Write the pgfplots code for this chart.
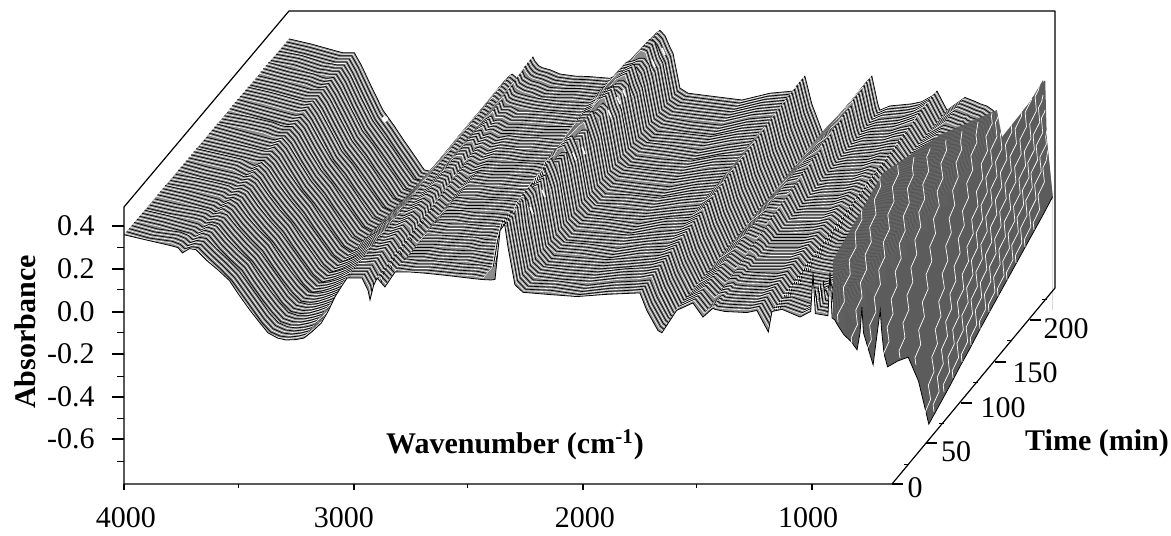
\documentclass[border=0pt]{standalone}
\usepackage{fontspec}
\setmainfont{Liberation Serif}
\usepackage{pgfplots}
\usepackage{pgfplotstable}
\usetikzlibrary{decorations.pathmorphing}
\pgfplotsset{compat=1.18}
\definecolor{surf}{gray}{0.55}
\definecolor{darksurf}{gray}{0.36}
% spectra: one column per time (c0 = 0 min, step 15 min)
\pgfplotstableread{
wn c0 c1 c2 c3 c4 c5 c6 c7 c8 c9 c10 c11 c12 c13 c14 c15 c16
4000 -.92 -.92 -.92 -.92 -.92 -.92 -.92 -.92 -.92 -.92 -.92 -.92 -.92 -.92 -.92 -.92 -.92
4000 .36 .36 .36 .355 .36 .355 .36 .36 .355 .36 .355 .36 .36 .355 .36 .355 .355
3900 .335 .33 .335 .33 .335 .335 .33 .335 .33 .33 .335 .33 .335 .33 .33 .335 .33
3800 .31 .315 .305 .31 .305 .31 .305 .31 .305 .30 .31 .30 .305 .30 .305 .30 .30
3765 .30 .30 .295 .30 .295 .30 .295 .29 .295 .29 .295 .29 .295 .29 .29 .295 .29
3745 .275 .28 .28 .285 .28 .285 .285 .28 .29 .285 .29 .285 .29 .29 .285 .29 .29
3715 .295 .29 .295 .29 .295 .29 .29 .295 .29 .295 .29 .29 .295 .29 .29 .29 .29
3686 .29 .285 .285 .28 .275 .275 .27 .265 .26 .26 .255 .255 .25 .245 .24 .24 .235
3640 .24 .235 .225 .22 .21 .205 .20 .19 .185 .18 .17 .165 .16 .15 .145 .135 .13
3590 .195 .185 .17 .16 .15 .14 .13 .12 .11 .095 .085 .075 .06 .05 .04 .03 .02
3540 .145 .13 .12 .105 .095 .08 .07 .055 .045 .03 .02 .005 -.005 -.02 -.03 -.045 -.055
3500 .08 .07 .055 .045 .03 .02 .005 -.005 -.02 -.03 -.045 -.055 -.07 -.08 -.095 -.105 -.12
3450 .005 -.005 -.02 -.03 -.045 -.055 -.07 -.08 -.095 -.11 -.12 -.135 -.145 -.16 -.17 -.185 -.197
3410 -.05 -.065 -.075 -.09 -.10 -.115 -.13 -.14 -.155 -.17 -.18 -.195 -.205 -.22 -.235 -.245 -.26
3372 -.10 -.11 -.12 -.13 -.14 -.155 -.165 -.175 -.185 -.195 -.205 -.215 -.225 -.24 -.25 -.26 -.27
3330 -.125 -.13 -.135 -.14 -.145 -.15 -.155 -.16 -.165 -.165 -.17 -.175 -.18 -.185 -.19 -.195 -.20
3293 -.134 -.135 -.136 -.137 -.138 -.139 -.14 -.141 -.142 -.143 -.144 -.145 -.146 -.147 -.148 -.149 -.15
3250 -.132 -.13 -.127 -.124 -.122 -.119 -.116 -.114 -.111 -.108 -.106 -.103 -.10 -.098 -.095 -.092 -.09
3215 -.125 -.12 -.115 -.11 -.105 -.10 -.095 -.09 -.085 -.08 -.075 -.07 -.065 -.06 -.055 -.05 -.045
3180 -.095 -.09 -.083 -.077 -.071 -.065 -.06 -.054 -.048 -.042 -.036 -.03 -.024 -.018 -.012 -.006 0
3140 -.055 -.05 -.04 -.035 -.03 -.02 -.015 -.01 0 .005 .01 .02 .025 .03 .04 .045 .05
3110 0 .005 .01 .015 .02 .03 .035 .04 .045 .05 .055 .06 .065 .07 .08 .085 .09
3080 .068 .07 .075 .08 .085 .09 .09 .095 .10 .10 .105 .11 .115 .12 .12 .125 .13
3050 .12 .125 .125 .13 .13 .135 .14 .14 .145 .15 .15 .155 .155 .16 .165 .165 .17
3027 .157 .16 .16 .165 .165 .165 .17 .17 .175 .175 .175 .18 .18 .185 .185 .19 .19
3005 .157 .16 .16 .16 .16 .16 .165 .165 .165 .165 .165 .165 .165 .17 .17 .17 .17
2962 .157 .16 .165 .17 .175 .18 .185 .19 .195 .20 .205 .21 .21 .215 .22 .225 .23
2936 .10 .11 .12 .13 .14 .155 .165 .175 .185 .195 .205 .215 .225 .24 .25 .26 .27
2927 .054 .065 .08 .09 .105 .115 .125 .14 .15 .165 .175 .19 .20 .21 .225 .235 .25
2912 .12 .125 .135 .14 .15 .155 .16 .17 .175 .18 .19 .195 .205 .21 .215 .225 .23
2896 .157 .16 .165 .17 .175 .18 .18 .185 .19 .19 .195 .20 .205 .21 .21 .215 .22
2862 .115 .12 .125 .13 .14 .145 .15 .155 .16 .17 .175 .18 .185 .19 .20 .205 .21
2818 .185 .19 .185 .185 .19 .185 .19 .185 .19 .185 .19 .19 .185 .19 .19 .185 .19
2750 .185 .18 .185 .185 .18 .185 .18 .185 .18 .18 .185 .18 .18 .185 .18 .18 .18
2690 .18 .18 .175 .18 .18 .175 .18 .175 .18 .18 .175 .18 .175 .18 .175 .18 .178
2600 .17 .17 .17 .175 .17 .17 .175 .17 .17 .175 .17 .17 .175 .17 .17 .17 .17
2560 .165 .165 .17 .165 .17 .165 .17 .165 .17 .165 .17 .17 .17 .175 .19 .20 .19
2482 .155 .16 .155 .16 .155 .16 .155 .20 .27 .29 .30 .31 .28 .30 .31 .30 .29
2439 .15 .15 .15 .19 .28 .31 .33 .35 .31 .34 .36 .33 .35 .34 .36 .34 .335
2400 .148 .20 .31 .34 .37 .33 .36 .38 .35 .38 .36 .39 .37 .39 .37 .39 .38
2382 .15 .32 .36 .39 .36 .40 .38 .41 .37 .40 .38 .41 .39 .40 .38 .41 .395
2360 .38 .41 .39 .42 .40 .43 .40 .42 .39 .42 .40 .42 .39 .41 .38 .40 .37
2340 .41 .40 .42 .39 .41 .38 .40 .37 .39 .36 .38 .35 .37 .34 .35 .33 .32
2325 .30 .31 .30 .32 .31 .33 .31 .32 .30 .31 .30 .31 .29 .30 .29 .30 .287
2295 .125 .13 .13 .135 .13 .135 .13 .135 .13 .13 .125 .13 .125 .13 .125 .125 .124
2260 .09 .09 .095 .09 .095 .09 .095 .095 .09 .095 .10 .095 .10 .095 .10 .10 .10
2150 .08 .085 .08 .08 .085 .08 .085 .08 .085 .08 .085 .08 .085 .085 .08 .085 .085
2024 .07 .065 .07 .07 .065 .07 .065 .07 .07 .065 .07 .07 .065 .07 .065 .07 .068
1902 .08 .08 .085 .08 .085 .085 .09 .085 .09 .09 .09 .095 .09 .095 .095 .10 .10
1800 .085 .085 .09 .09 .09 .095 .095 .095 .10 .10 .10 .10 .105 .105 .105 .11 .11
1750 .087 .09 .10 .105 .11 .115 .12 .13 .135 .14 .145 .15 .155 .165 .17 .175 .18
1720 .005 .01 .015 .015 .02 .02 .025 .03 .03 .03 .035 .035 .04 .04 .045 .05 .05
1671 -.09 -.085 -.09 -.09 -.085 -.09 -.09 -.085 -.09 -.09 -.085 -.09 -.09 -.085 -.09 -.09 -.09
1654 -.10 -.10 -.095 -.09 -.09 -.085 -.085 -.08 -.08 -.08 -.075 -.075 -.07 -.07 -.065 -.06 -.06
1590 .005 .01 .005 .01 .005 .01 .01 .005 .01 .01 .005 .01 .01 .005 .01 .01 .01
1519 .04 .045 .05 .05 .055 .06 .065 .065 .07 .075 .08 .08 .085 .09 .09 .095 .10
1475 -.026 -.015 0 .01 .02 .03 .045 .055 .065 .08 .09 .10 .115 .125 .135 .15 .16
1458 -.01 0 .015 .025 .035 .05 .06 .075 .085 .095 .11 .12 .135 .145 .155 .17 .18
1432 .015 .02 .02 .025 .025 .03 .03 .03 .035 .035 .04 .04 .04 .045 .045 .05 .05
1423 .01 .01 .01 .015 .01 .015 .015 .015 .015 .015 .015 .02 .02 .02 .02 .02 .02
1380 0 .005 .005 .01 .01 .01 .015 .015 .02 .02 .025 .025 .03 .03 .035 .035 .04
1283 -.005 0 0 .005 .01 .01 .015 .02 .02 .025 .03 .03 .035 .04 .04 .045 .05
1240 .005 .01 .015 .015 .02 .025 .025 .03 .035 .04 .04 .045 .05 .05 .055 .06 .06
1190 -.096 -.085 -.07 -.06 -.05 -.04 -.025 -.015 -.005 .01 .02 .03 .045 .055 .065 .08 .09
1174 0 .005 .015 .02 .03 .035 .04 .05 .055 .06 .07 .075 .08 .09 .095 .105 .11
1130 .01 .01 .01 .01 .015 .015 .015 .015 .015 .015 .015 .02 .02 .02 .02 .02 .02
1052 -.026 -.02 -.01 -.005 0 .005 .015 .02 .025 .035 .04 .045 .055 .06 .065 .075 .08
1005 0 .005 .01 .01 .015 .02 .02 .025 .03 .035 .04 .04 .045 .05 .05 .055 .06
995 .18 .08 .03 .03 .03 .035 .035 .04 .04 .04 .045 .045 .05 .05 .05 .055 .055
985 -.01 -.005 0 0 .005 .01 .015 .015 .02 .025 .025 .03 .035 .035 .04 .045 .05
957 -.015 -.01 -.01 -.005 0 0 .005 .01 .01 .015 .02 .02 .025 .03 .03 .035 .04
930 -.02 -.02 -.015 -.01 -.01 -.005 -.005 0 0 .005 .005 .01 .01 .015 .015 .02 .02
921 .19 .07 0 -.005 -.005 0 0 0 .005 .005 .005 .01 .01 .01 .01 .01 .01
912 -.03 -.03 -.03 -.03 -.03 -.035 -.035 -.035 -.035 -.035 -.035 -.04 -.04 -.04 -.04 -.04 -.04
900 -.04 -.04 -.045 -.05 -.05 -.055 -.055 -.06 -.06 -.06 -.065 -.065 -.07 -.07 -.075 -.08 -.08
900 -.92 -.92 -.92 -.92 -.92 -.92 -.92 -.92 -.92 -.92 -.92 -.92 -.92 -.92 -.92 -.92 -.92
}\tabA
\pgfplotstableread{
wn c0 c1 c2 c3 c4 c5 c6 c7 c8 c9 c10 c11 c12 c13 c14 c15 c16
900 -.92 -.92 -.92 -.92 -.92 -.92 -.92 -.92 -.92 -.92 -.92 -.92 -.92 -.92 -.92 -.92 -.92
900 -.04 -.04 -.045 -.05 -.05 -.055 -.055 -.06 -.06 -.06 -.065 -.065 -.07 -.07 -.075 -.08 -.08
890 -.06 -.065 -.065 -.07 -.07 -.075 -.08 -.08 -.085 -.085 -.09 -.09 -.095 -.10 -.10 -.105 -.11
860 -.11 -.11 -.105 -.10 -.10 -.10 -.095 -.095 -.09 -.09 -.085 -.085 -.08 -.08 -.075 -.075 -.07
830 -.14 -.13 -.125 -.12 -.11 -.105 -.10 -.09 -.085 -.08 -.07 -.065 -.06 -.05 -.045 -.035 -.03
803 -.18 -.12 -.07 -.05 -.03 -.025 -.02 -.02 -.015 -.015 -.01 -.01 -.005 0 0 .005 .01
790 -.10 -.05 -.03 -.02 -.015 -.01 -.01 -.005 0 0 .005 .005 .01 .015 .02 .025 .03
782 .02 .01 0 0 0 .005 .005 .01 .01 .015 .015 .02 .025 .03 .03 .035 .04
775 -.10 -.05 -.02 -.015 -.01 -.005 0 .005 .01 .01 .015 .02 .025 .03 .035 .04 .045
750 -.19 -.12 -.07 -.05 -.04 -.03 -.02 -.01 0 .01 .02 .03 .04 .05 .06 .07 .08
733 -.25 -.16 -.09 -.06 -.04 -.03 -.015 0 .01 .025 .04 .05 .065 .075 .09 .10 .11
715 -.10 -.085 -.07 -.055 -.04 -.02 -.005 .01 .025 .04 .055 .07 .085 .105 .12 .135 .15
702 .005 .015 .025 .035 .045 .055 .065 .075 .085 .09 .10 .11 .12 .13 .14 .15 .16
695 -.10 -.09 -.085 -.08 -.08 -.08 -.08 -.08 -.085 -.09 -.09 -.095 -.10 -.10 -.11 -.115 -.12
685 -.20 -.22 -.25 -.30 -.36 -.36 -.33 -.31 -.29 -.27 -.26 -.25 -.24 -.24 -.23 -.225 -.22
670 -.26 -.29 -.33 -.50 -.76 -.73 -.70 -.665 -.635 -.60 -.57 -.54 -.51 -.48 -.45 -.42 -.387
670 -.92 -.92 -.92 -.92 -.92 -.92 -.92 -.92 -.92 -.92 -.92 -.92 -.92 -.92 -.92 -.92 -.92
}\tabB
% lower outline of the surface: first spectrum, then the low-wavenumber edge
\pgfplotstableread{
wn t z
4000 0 .36
3900 0 .335
3800 0 .31
3765 0 .30
3745 0 .275
3715 0 .295
3686 0 .29
3640 0 .24
3590 0 .195
3540 0 .145
3500 0 .08
3450 0 .005
3410 0 -.05
3372 0 -.10
3330 0 -.125
3293 0 -.134
3250 0 -.132
3215 0 -.125
3180 0 -.095
3140 0 -.055
3110 0 0
3080 0 .068
3050 0 .12
3027 0 .157
3005 0 .157
2962 0 .157
2936 0 .10
2927 0 .054
2912 0 .12
2896 0 .157
2862 0 .115
2818 0 .185
2750 0 .185
2690 0 .18
2600 0 .17
2560 0 .165
2482 0 .155
2439 0 .15
2400 0 .148
2382 0 .15
2360 0 .38
2340 0 .41
2325 0 .30
2295 0 .125
2260 0 .09
2150 0 .08
2024 0 .07
1902 0 .08
1800 0 .085
1750 0 .087
1720 0 .005
1671 0 -.09
1654 0 -.10
1590 0 .005
1519 0 .04
1475 0 -.026
1458 0 -.01
1432 0 .015
1423 0 .01
1380 0 0
1283 0 -.005
1240 0 .005
1190 0 -.096
1174 0 0
1130 0 .01
1052 0 -.026
1005 0 0
995 0 .18
985 0 -.01
957 0 -.015
930 0 -.02
921 0 .19
912 0 -.03
900 0 -.04
890 0 -.06
860 0 -.11
830 0 -.14
803 0 -.18
790 0 -.10
782 0 .02
775 0 -.10
750 0 -.19
733 0 -.25
715 0 -.10
702 0 .005
695 0 -.10
685 0 -.20
670 0 -.26
670 15 -.29
670 30 -.33
670 45 -.50
670 60 -.76
670 75 -.73
670 90 -.70
670 105 -.665
670 120 -.635
670 135 -.60
670 150 -.57
670 165 -.54
670 180 -.51
670 195 -.48
670 210 -.45
670 225 -.42
670 240 -.387
670 240 -1.02
670 0 -1.02
4010 0 -1.02
4010 0 .36
}\tabM
\pgfkeys{/tikz/hatchw/.style={postaction={draw=white,line width=.3pt,transform canvas={xshift=-#1*.645pt,yshift=-#1*.77pt}}},
 /tikz/hatchk/.style={postaction={draw=black,line width=.35pt,transform canvas={xshift=-#1*.645pt,yshift=-#1*.77pt}}}}
\begin{document}
\begin{tikzpicture}
\begin{axis}[
  hide axis, clip=false,
  x={(-0.11465pt,0pt)}, y={(0.34375pt,0.4104pt)}, z={(0pt,106.5pt)},
  xmin=670, xmax=4000, ymin=0, ymax=240, zmin=-0.81, zmax=0.49,
  anchor=origin, at={(0,0)}
]
\addplot3[mark=none, fill=surf, draw=none] coordinates {(4000,0,.36) (4000,240,.355) (3900,240,.33) (3900,0,.335)};
\pgfplotsinvokeforeach{16,15,...,1}{
  \addplot3[mark=none, fill=surf, draw=none] table[x=wn, y expr=#1*15, z=c#1] {\tabA};
  \addplot3[mark=none, draw=black, line width=.35pt, restrict z to domain=-0.9:1,
    hatchw=1, hatchk=2, hatchw=3, hatchk=4, hatchw=5, hatchk=6, hatchw=7]
    table[x=wn, y expr=#1*15, z=c#1] {\tabA};
  \addplot3[mark=none, fill=darksurf, draw=none] table[x=wn, y expr=#1*15, z=c#1] {\tabB};
}
\addplot3[mark=none, fill=surf, draw=none] table[x=wn, y expr=0, z=c0] {\tabA};
\addplot3[mark=none, fill=darksurf, draw=none] table[x=wn, y expr=0, z=c0] {\tabB};
% darker steep face at low wavenumber
\addplot3[mark=none, fill=darksurf, draw=none, fill opacity=.92] coordinates {
 (908,0,.054) (908,0,.242) (690,0,.650) (441,0,.829) (193,0,.946) (171,0,.819) (49,0,.984) (-8,0,1.087)
 (-25,0,.805) (-51,0,.538) (494,0,-.6) (790,0,-.415) (908,0,-.04)};
\addplot3[mark=none, fill=white, draw=none] table[x=wn, y=t, z=z] {\tabM};
\addplot3[mark=none, black, line width=.4pt, restrict z to domain=-0.9:1] table[x=wn, y=t, z=z] {\tabM};
\coordinate (O) at (axis cs:4000,0,-0.81);
\end{axis}
\pgfresetboundingbox
\begin{scope}[shift={(O)}]
\begin{scope}[shift={(-62pt,242pt)},x=.5pt,y=-.5pt]
  \path[use as bounding box] (0,0) rectangle (1171,535);
  \fill[white] (385,119) circle (3);
  % white highlights along the jagged ridge
  \foreach \x/\y in {530/207,542/190,573/153,582/147,608/110,617/97,623/90,652/60,662/48}{
    \draw[white,line width=.8pt] (\x,\y) -- ++(3,7);
  }
  % sparse white lines on the dark face
  \foreach \a/\b/\c/\d in {838/322/862/210,852/345/880/178,866/360/898/165,884/362/914/157,900/358/930/148,916/365/946/140,926/420/962/131,934/412/978/122,944/392/992/113,953/378/1000/108,962/362/1008/103,971/345/1016/98,980/329/1024/92,989/312/1032/87,998/296/1040/82,1007/280/1043/95,1016/263/1045/110,1025/247/1047/130,1034/230/1048/150}{
    \draw[white,line width=.35pt,decorate,decoration={zigzag,segment length=14pt,amplitude=1pt}] (\a,\b) -- (\c,\d);
  }
  \draw[line width=.6pt, line join=bevel] (124,484) -- (124,207) -- (289,11) -- (1055,11) -- (1055,288) -- (892,484) -- cycle;
  % absorbance ticks
  \foreach \y/\l in {226/0.4,269/0.2,312/0.0,354/-0.2,397/-0.4,439/-0.6}{
    \draw[line width=.6pt] (124,\y) -- (112,\y);
    \node[anchor=east,inner sep=0pt,font=\fontsize{15}{18}\selectfont] at (95,\y) {\l};
  }
  \foreach \y in {248,290,333,376,418,461}{\draw[line width=.5pt] (124,\y) -- (117,\y);}
  % wavenumber ticks
  \foreach \x/\l/\c in {124/4000/126,354/3000/344,583/2000/585,812/1000/808}{
    \draw[line width=.6pt] (\x,484) -- (\x,490);
    \node[inner sep=0pt,font=\fontsize{15}{18}\selectfont] at (\c,518) {\l};
  }
  \foreach \x in {239,468,697}{\draw[line width=.5pt] (\x,484) -- (\x,488);}
  % time ticks
  \foreach \x/\y/\l/\a/\b in {892/484/0/915/488,926/443/50/956/452,961/403/100/1003/408,995/362/150/1035/373,1030/320/200/1066/329}{
    \draw[line width=.6pt] (\x,\y) -- ++(11,0);
    \node[inner sep=0pt,font=\fontsize{15}{18}\selectfont] at (\a,\b) {\l};
  }
  \foreach \x/\y in {909/464,944/423,978/382,1012/341,1047/300}{\draw[line width=.5pt] (\x,\y) -- ++(-5,0);}
  \node[rotate=90,inner sep=0pt,font=\fontsize{15}{18}\selectfont\bfseries] at (25,332) {Absorbance};
  \node[inner sep=0pt,font=\fontsize{15}{18}\selectfont\bfseries] at (515,445) {Wavenumber (cm\textsuperscript{-1})};
  \node[inner sep=0pt,font=\fontsize{15}{18}\selectfont\bfseries] at (1097,443) {Time (min)};
\end{scope}
\end{scope}
\end{tikzpicture}
\end{document}
